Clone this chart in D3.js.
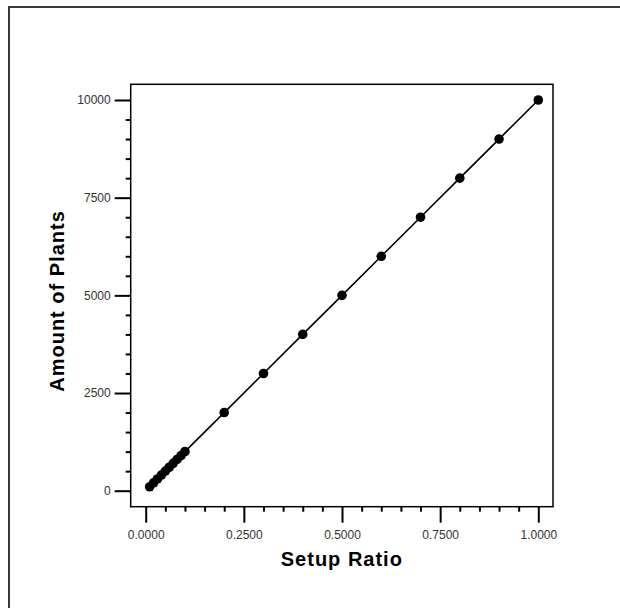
<!DOCTYPE html>
<html>
<head>
<meta charset="utf-8">
<script src="https://cdn.jsdelivr.net/npm/d3@7"></script>
<style>
  body { margin: 0; background: #fff; }
  text { font-family: Arial, "Liberation Sans", sans-serif; }
</style>
</head>
<body>
<div id="container"></div>
<script>
const setupRatio = [0.01, 0.02, 0.03, 0.04, 0.05, 0.06, 0.07, 0.08, 0.09, 0.1,
  0.2, 0.3, 0.4, 0.5, 0.6, 0.7, 0.8, 0.9, 1.0];
const plants = [100, 200, 300, 400, 500, 600, 700, 800, 900, 1000,
  2000, 3000, 4000, 5000, 6000, 7000, 8000, 9000, 10000];
const xTicks = [0, 0.25, 0.5, 0.75, 1];
const yTicks = [0, 2500, 5000, 7500, 10000];

const w = 620;
const h = 608;

// plot frame
const frame = { left: 130.7, top: 84.3, right: 553, bottom: 506.7 };

const svg = d3
  .select("#container")
  .append("svg")
  .attr("width", w)
  .attr("height", h);

// outer window edge (top and left only)
svg
  .append("path")
  .attr("d", `M9,${h} L9,7 L${w},7`)
  .attr("fill", "none")
  .attr("stroke", "#3a3a3a")
  .attr("stroke-width", 2);

const xScale = d3.scaleLinear().domain([0, 1]).range([145.7, 538.3]);
const yScale = d3.scaleLinear().domain([0, 10000]).range([490.7, 100]);

const data = setupRatio.map((d, i) => [d, plants[i]]);

// minor tick values between the majors
const xMinor = d3.range(0, 1.0001, 0.05).filter((v) => Math.round(v * 100) % 25 !== 0);
const yMinor = d3.range(0, 10001, 500).filter((v) => v % 2500 !== 0);

const xMinorAxis = d3.axisBottom(xScale).tickValues(xMinor).tickSize(5).tickFormat("");
const xAxis = d3.axisBottom(xScale).tickValues(xTicks).tickSize(16).tickPadding(8)
  .tickFormat(d3.format(".4f"));
const yMinorAxis = d3.axisLeft(yScale).tickValues(yMinor).tickSize(5).tickFormat("");
const yAxis = d3.axisLeft(yScale).tickValues(yTicks).tickSize(16).tickPadding(4)
  .tickFormat(d3.format("d"));

function styleAxis(g) {
  g.select(".domain").remove();
  g.selectAll("line").attr("stroke", "#000").attr("stroke-width", 2);
  g.selectAll("text").attr("fill", "#333").style("font-size", "12px");
}

svg.append("g").attr("transform", `translate(0, ${frame.bottom})`).call(xMinorAxis).call(styleAxis);
svg.append("g").attr("id", "x-axis").attr("transform", `translate(0, ${frame.bottom})`).call(xAxis).call(styleAxis);
svg.append("g").attr("transform", `translate(${frame.left}, 0)`).call(yMinorAxis).call(styleAxis);
svg.append("g").attr("id", "y-axis").attr("transform", `translate(${frame.left}, 0)`).call(yAxis).call(styleAxis);

svg
  .append("rect")
  .attr("x", frame.left)
  .attr("y", frame.top)
  .attr("width", frame.right - frame.left)
  .attr("height", frame.bottom - frame.top)
  .attr("fill", "none")
  .attr("stroke", "#000")
  .attr("stroke-width", 1.5);

const line = d3
  .line()
  .x((d) => xScale(d[0]))
  .y((d) => yScale(d[1]));

svg
  .append("path")
  .datum(data)
  .attr("d", line)
  .attr("fill", "none")
  .attr("stroke", "#000")
  .attr("stroke-width", 1.6);

svg
  .selectAll("circle")
  .data(data)
  .enter()
  .append("circle")
  .attr("cx", (d) => xScale(d[0]))
  .attr("cy", (d) => yScale(d[1]))
  .attr("r", 4.8)
  .attr("fill", "#000");

svg
  .append("text")
  .attr("x", (frame.left + frame.right) / 2)
  .attr("y", 566)
  .attr("text-anchor", "middle")
  .attr("font-weight", "bold")
  .attr("letter-spacing", 1)
  .style("font-size", "20px")
  .text("Setup Ratio");

svg
  .append("text")
  .attr("text-anchor", "middle")
  .attr("transform", `translate(63.5, 301) rotate(-90)`)
  .attr("font-weight", "bold")
  .attr("letter-spacing", 1)
  .style("font-size", "20px")
  .text("Amount of Plants");
</script>
</body>
</html>
